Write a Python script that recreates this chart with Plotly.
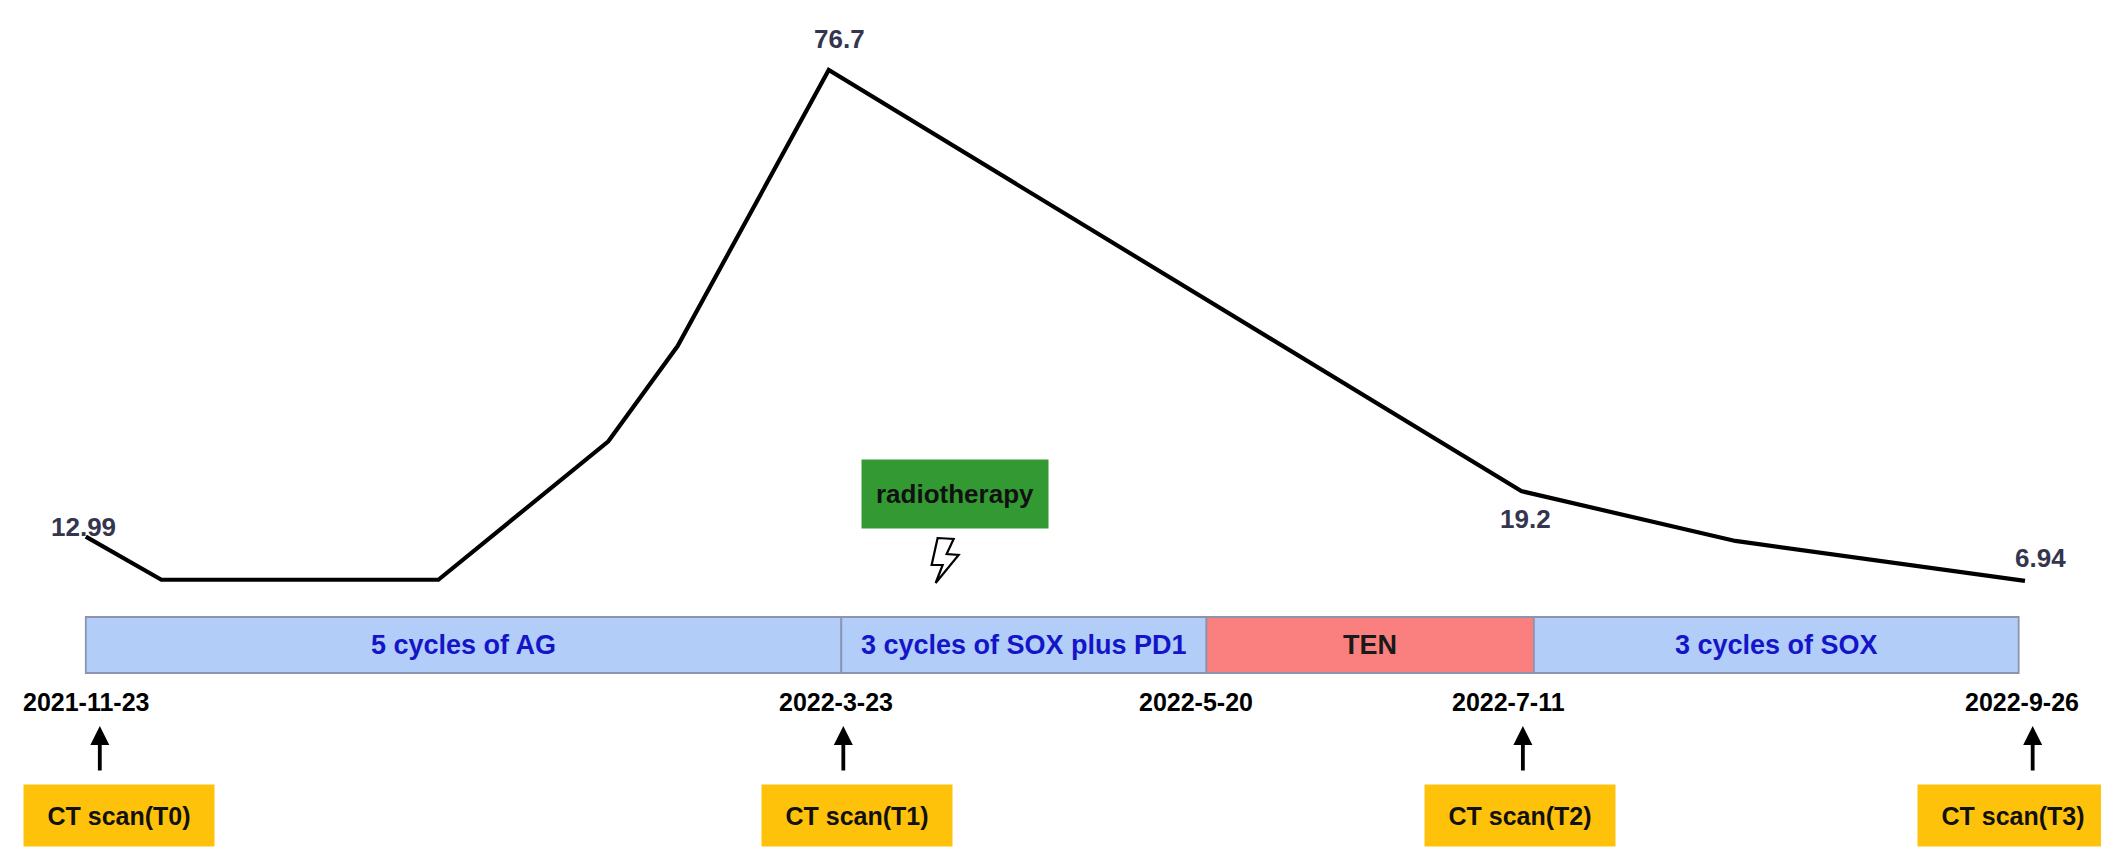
import pandas as pd
import plotly.graph_objects as go

# ---------------- data ----------------
dates = ["2021-11-23", "2021-12-05", "2022-01-18", "2022-02-14", "2022-02-25",
         "2022-03-21", "2022-07-09", "2022-08-12", "2022-09-27"]
values = [12.99, 7.1, 7.1, 26.0, 39.0, 76.7, 19.2, 12.4, 6.94]
labeled_idx = [0, 5, 6, 8]
value_labels = ["12.99", "76.7", "19.2", "6.94"]

phase_names = ["5 cycles of AG", "3 cycles of SOX plus PD1", "TEN", "3 cycles of SOX"]
phase_starts = ["2021-11-23", "2022-03-23", "2022-05-20", "2022-07-11"]
phase_ends = ["2022-03-23", "2022-05-20", "2022-07-11", "2022-09-26"]

boundary_dates = ["2021-11-23", "2022-03-23", "2022-05-20", "2022-07-11", "2022-09-26"]
boundary_labels = ["2021-11-23", "2022-3-23", "2022-5-20", "2022-7-11", "2022-9-26"]

ct_dates = ["2021-11-23", "2022-03-23", "2022-07-11", "2022-09-26"]
ct_labels = ["CT scan(T0)", "CT scan(T1)", "CT scan(T2)", "CT scan(T3)"]

radio_date = "2022-04-10"
radio_label = "radiotherapy"

# ---------------- styles ----------------
FONT = "Liberation Sans, Arial, sans-serif"
W, H = 2109, 854
phase_fill = ["#B1CDF8", "#B1CDF8", "#FA8080", "#B1CDF8"]
phase_text = ["#1515C8", "#1515C8", "#1a1a1a", "#1515C8"]
value_shift = [(-2, 10), (11, 31), (4, -28), (16, 23)]
date_xshift = [1, -5, -10, -25, 3]
arrow_xshift = [14, 2, -11, 14]
box_xshift = [33, 16, -14, -6]

BAR_Y0, BAR_Y1 = 1 - 665 / H, 1 - 609 / H
DATE_Y = 1 - 694 / H
ARROW_TIP = 1 - 718 / H
CT_Y = 1 - 807 / H
RADIO_Y = 1 - 486 / H
BOLT_Y = 1 - 552 / H

fig = go.Figure()
fig.add_trace(go.Scatter(x=dates, y=values, mode="lines",
                         line=dict(color="black", width=4.2), hoverinfo="skip"))

annotations = []
shapes = []

def ann(**kw):
    kw.setdefault("xanchor", "center")
    kw.setdefault("yanchor", "middle")
    annotations.append(kw)

# value labels
for k, i in enumerate(labeled_idx):
    ann(x=dates[i], y=values[i], xref="x", yref="y",
        text=value_labels[k], showarrow=False,
        xshift=value_shift[k][0], yshift=value_shift[k][1],
        font=dict(family=FONT, size=26, color="#34354F", weight="bold"))

# treatment phases
for n, s, e, fc, tc in zip(phase_names, phase_starts, phase_ends, phase_fill, phase_text):
    shapes.append(dict(type="rect", xref="x", yref="paper", x0=s, x1=e, y0=BAR_Y0, y1=BAR_Y1,
                       fillcolor=fc, line=dict(color="#8E93AE", width=1.8), layer="below"))
    ts, te = pd.Timestamp(s), pd.Timestamp(e)
    mid = ts + (te - ts) / 2
    ann(x=mid, y=(BAR_Y0 + BAR_Y1) / 2, xref="x", yref="paper",
        text=n, showarrow=False,
        font=dict(family=FONT, size=27, color=tc, weight="bold"))

# boundary dates
for d, lab, xs in zip(boundary_dates, boundary_labels, date_xshift):
    ann(x=d, y=DATE_Y, xref="x", yref="paper", text=lab,
        showarrow=False, xshift=xs,
        font=dict(family=FONT, size=25, color="black", weight="bold"))

# CT scans: arrows and boxes
for d, lab, axs, bxs in zip(ct_dates, ct_labels, arrow_xshift, box_xshift):
    ann(x=d, y=ARROW_TIP, xref="x", yref="paper", text="",
        showarrow=True, ax=0, ay=45, xshift=axs, borderpad=0,
        font=dict(size=1),
        arrowhead=2, arrowsize=1.0, arrowwidth=3.8, arrowcolor="black")
    ann(x=d, y=CT_Y, xref="x", yref="paper", text=lab,
        showarrow=False, xshift=bxs, bgcolor="#FFC20A",
        width=186, height=57, borderpad=2,
        font=dict(family=FONT, size=25, color="#111111", weight="bold"))

# radiotherapy
ann(x=radio_date, y=RADIO_Y, xref="x", yref="paper", text=radio_label,
    showarrow=False, bgcolor="#339A33", width=182, height=64, borderpad=2,
    font=dict(family=FONT, size=26, color="#111111", weight="bold"))
bolt = "M -17 22 L -1 21 L -8 6 L 4 5 L -19 -23 L -12 -5 L -23 -5 Z"
shapes.append(dict(type="path", xref="x", yref="paper", xsizemode="pixel", ysizemode="pixel",
                   xanchor=radio_date, yanchor=BOLT_Y, path=bolt,
                   fillcolor="white", line=dict(color="black", width=2.2)))

x0 = pd.Timestamp("2021-11-23") - pd.Timedelta(days=12.357)
x1 = x0 + pd.Timedelta(days=W / 6.296)

fig.update_layout(
    width=W, height=H,
    margin=dict(l=0, r=0, t=0, b=0),
    paper_bgcolor="white", plot_bgcolor="white",
    showlegend=False,
    xaxis=dict(visible=False, range=[x0, x1], type="date"),
    yaxis=dict(visible=False, range=[-31.43, 85.16]),
    annotations=annotations, shapes=shapes,
)

fig.write_html("out.html")
